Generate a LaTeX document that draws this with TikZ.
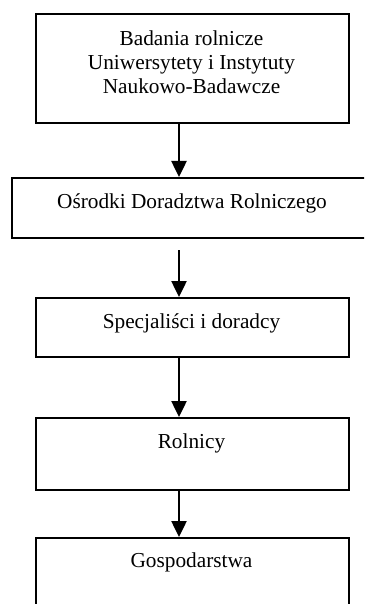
\documentclass[tikz,border=0pt]{standalone}
\usepackage{fontspec}
\setmainfont{Liberation Serif}
\usetikzlibrary{arrows.meta}
\begin{document}
\begin{tikzpicture}[x=1pt,y=-1pt,
  box/.style={draw=black,line width=2pt,rectangle,inner sep=0pt,anchor=north west},
  txt/.style={anchor=base,inner sep=0pt,align=center,font=\fontsize{21.3}{24}\selectfont},
  arr/.style={line width=2.5pt,-{Triangle[width=15pt,length=16pt]}}]
\useasboundingbox (0,0) rectangle (364,604);
\clip (0,0) rectangle (364,604);
\node[box,minimum width=313pt,minimum height=109pt] (b1) at (35,13) {};
\node[box,minimum width=361pt,minimum height=60pt] (b2) at (11,177) {};
\node[box,minimum width=313pt,minimum height=59pt] (b3) at (35,297) {};
\node[box,minimum width=313pt,minimum height=72pt] (b4) at (35,417) {};
\node[box,minimum width=313pt,minimum height=80pt] (b5) at (35,537) {};
\node[txt] (t1) at (191.5,94) {Badania rolnicze\\Uniwersytety i Instytuty\\Naukowo-Badawcze};
\node[txt] (t2) at (192,208) {Ośrodki Doradztwa Rolniczego};
\node[txt] (t3) at (191.5,328) {Specjaliści i doradcy};
\node[txt] (t4) at (191.5,448) {Rolnicy};
\node[txt] (t5) at (191.5,567) {Gospodarstwa};
\coordinate (ax) at (179,0);
\draw[arr] (b1.south west -| ax) -- (b2.north west -| ax);
\draw[arr] ([yshift=-11pt]b2.south west -| ax) -- (b3.north west -| ax);
\draw[arr] (b3.south west -| ax) -- (b4.north west -| ax);
\draw[arr] (b4.south west -| ax) -- (b5.north west -| ax);
\end{tikzpicture}
\end{document}
